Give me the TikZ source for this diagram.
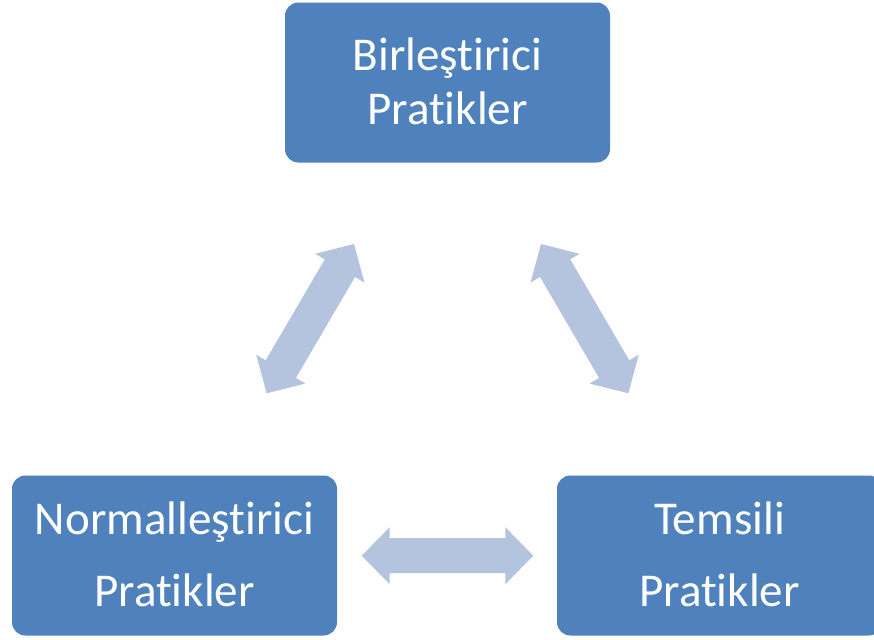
\documentclass[tikz,border=0pt]{standalone}
\usepackage{fontspec}
\setmainfont{Carlito}[Ligatures={NoCommon,NoRequired,NoContextual}]
\usetikzlibrary{calc}
\definecolor{boxblue}{HTML}{4F81BD}
\definecolor{arrowblue}{HTML}{B4C3DE}

% two-way block arrow between two named coordinates:
% head length 21pt, head half-width 21.375pt, shaft half-width 13.125pt
\newcommand{\twowayarrow}[2]{%
  \coordinate (#1 back) at ($(#1)!21pt!(#2)$);
  \coordinate (#2 back) at ($(#2)!21pt!(#1)$);
  \fill[linkarrow]
    (#1)
    -- ($(#1 back)!21.375pt!90:(#2)$)
    -- ($(#1 back)!13.125pt!90:(#2)$)
    -- ($(#2 back)!13.125pt!-90:(#1)$)
    -- ($(#2 back)!21.375pt!-90:(#1)$)
    -- (#2)
    -- ($(#2 back)!21.375pt!90:(#1)$)
    -- ($(#2 back)!13.125pt!90:(#1)$)
    -- ($(#1 back)!13.125pt!-90:(#2)$)
    -- ($(#1 back)!21.375pt!-90:(#2)$)
    -- cycle;}
% extra depth under the last line of a box label
\newcommand{\lastlinedepth}{\rule[-2.5pt]{0pt}{2.5pt}}

\begin{document}
\begin{tikzpicture}[x=0.75pt,y=-0.75pt,
  box/.style={rectangle, rounded corners=10pt, fill=boxblue, text=white,
    minimum width=243.75pt, minimum height=120pt, align=center, inner sep=0pt},
  toptext/.style={font=\fontsize{35.3}{40.5}\selectfont},
  lowtext/.style={font=\fontsize{35.3}{54}\selectfont},
  linkarrow/.style={fill=arrowblue}
]
\useasboundingbox (0,0) rectangle (874,639);
\clip (0,0) rectangle (874,639);

% the three practice boxes
\node[box,toptext] (top) at (447.5,82.5) {Birleştirici\\Pratikler\lastlinedepth};
\node[box,lowtext] (left) at (174.5,555.5) {Normalleştirici\\Pratikler\lastlinedepth};
\node[box,lowtext] (right) at (719.5,555.5) {Temsili\\Pratikler\lastlinedepth};

% ends of the two-way arrows between the boxes
\coordinate (lefttop) at (354,244);
\coordinate (leftlow) at (266.7,393.3);
\coordinate (righttop) at (541,244);
\coordinate (rightlow) at (628.3,393.3);
\coordinate (midleft) at (361.7,555.7);
\coordinate (midright) at (533.3,555.7);

\twowayarrow{leftlow}{lefttop}
\twowayarrow{rightlow}{righttop}
\twowayarrow{midleft}{midright}
\end{tikzpicture}
\end{document}
